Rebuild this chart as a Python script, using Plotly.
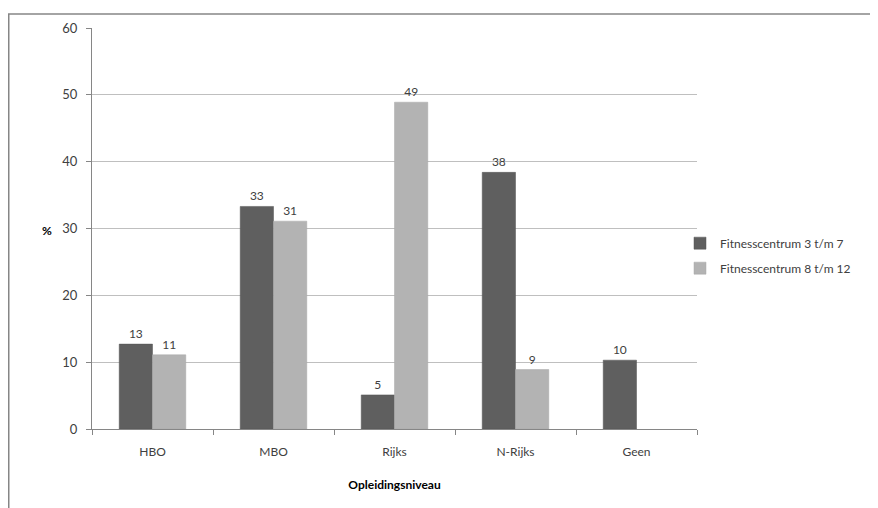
import plotly.graph_objects as go

categories = ["HBO", "MBO", "Rijks", "N-Rijks", "Geen"]
series1_name = "Fitnesscentrum 3 t/m 7"
series1 = [12.7, 33.3, 5.1, 38.4, 10.3]
series1_labels = ["13", "33", "5", "38", "10"]
series2_name = "Fitnesscentrum 8 t/m 12"
series2 = [11.1, 31.1, 48.9, 8.9, None]
series2_labels = ["11", "31", "49", "9", ""]
y_ticks = [0, 10, 20, 30, 40, 50, 60]

FONT = "Lato, Open Sans, Liberation Sans, sans-serif"
W, H = 870, 500
L, R, T, B = 84, 181, 15, 79
PW, PH = W - L - R, H - T - B

fig = go.Figure()
fig.add_trace(go.Bar(x=categories, y=series1, name=series1_name, marker_color="#5f5f5f",
                     marker_line=dict(color="#555555", width=0.5), legendgroup="a",
                     text=series1_labels, textposition="outside", cliponaxis=False,
                     textfont=dict(size=12, color="#404040")))
fig.add_trace(go.Bar(x=categories, y=series2, name=series2_name, marker_color="#b3b3b3",
                     marker_line=dict(color="#a8a8a8", width=0.5), legendgroup="b",
                     text=series2_labels, textposition="outside", cliponaxis=False,
                     textfont=dict(size=12, color="#404040")))

fig.update_layout(
    width=W, height=H,
    margin=dict(l=L, r=R, t=T, b=B),
    paper_bgcolor="white", plot_bgcolor="white",
    barmode="group", bargap=0.45, bargroupgap=0.0,
    font=dict(family=FONT, size=11, color="#404040"),
    showlegend=True,
    legend=dict(x=(672 - L) / PW, y=(H - B - 245.5) / PH, xanchor="left", yanchor="middle",
                font=dict(size=12, color="#404040"), itemwidth=30,
                tracegroupgap=6, bgcolor="rgba(0,0,0,0)"),
    xaxis=dict(type="category", showline=True, linecolor="#868686", linewidth=1,
               ticks="outside", tickson="boundaries", ticklen=5, tickcolor="#868686",
               ticklabelstandoff=12,
               tickfont=dict(size=12, color="#404040"),
               title=dict(text="<b>Opleidingsniveau</b>", font=dict(size=12, color="#000000"), standoff=22)),
    yaxis=dict(range=[0, 60], tickvals=y_ticks, showgrid=True, gridcolor="#bfbfbf", gridwidth=1,
               showline=True, linecolor="#868686", linewidth=1, zeroline=False,
               ticks="outside", ticklen=5, tickcolor="#868686", ticklabelstandoff=6,
               tickfont=dict(size=13, color="#404040")),
)
fig.add_annotation(text="<b>%</b>", xref="paper", yref="paper", x=(32 - L) / PW, y=(H - B - 220) / PH,
                   showarrow=False, font=dict(size=12, color="#000000"))
fig.add_shape(type="rect", xref="paper", yref="paper", x0=(0.75 - L) / PW, x1=2, y0=-1, y1=(H - B - 0.75) / PH,
              line=dict(color="#868686", width=1.5), fillcolor="rgba(0,0,0,0)", layer="below")
fig.write_html("out.html")
